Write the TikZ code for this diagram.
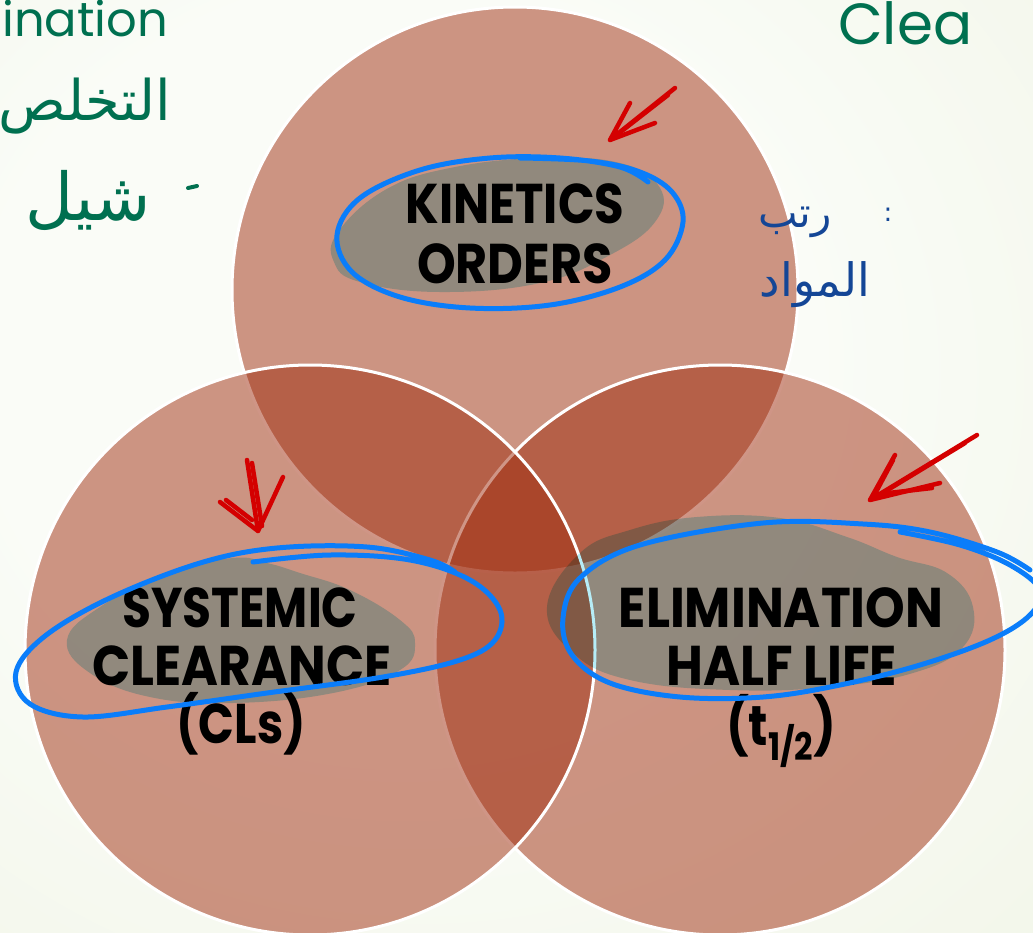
\documentclass[tikz,border=0pt]{standalone}
\usepackage{fontspec}
\setmainfont{Poppins}
\newfontfamily\arabicfont[Script=Arabic]{DejaVu Sans}
\TeXXeTstate=1
\usetikzlibrary{calc}
\definecolor{circ}{RGB}{160,45,15}
\definecolor{blobc}{RGB}{182,237,247}
\definecolor{pen}{RGB}{10,125,250}
\definecolor{redpen}{RGB}{212,0,0}
\definecolor{hwgreen}{RGB}{0,112,80}
\definecolor{hwblue}{RGB}{20,70,150}
\definecolor{bgin}{RGB}{250,252,247}
\definecolor{bgout}{RGB}{232,238,215}
\pgfdeclareradialshading{bgshade}{\pgfpoint{-8bp}{8bp}}{color(0bp)=(bgin); color(20bp)=(bgin); color(72bp)=(bgout)}
\newcommand{\hsq}[2]{\scalebox{#1}[1]{#2}}
\tikzset{
  venn/.style={circle, inner sep=0pt, fill=circ, fill opacity=0.5, draw=white, draw opacity=1, line width=3pt},
  lbl/.style={anchor=base, inner sep=0pt, font=\fontsize{56}{56}\selectfont\bfseries, text=black},
  blob/.style={fill=blobc},
  bluepen/.style={draw=pen, line width=5pt, line cap=round, line join=round},
  redstroke/.style={draw=redpen, line width=4.5pt, line cap=round, line join=round},
  hwg/.style={inner sep=0pt, text=hwgreen},
  hwb/.style={inner sep=0pt, text=hwblue}
}
\begin{document}
\begin{tikzpicture}[x=1pt,y=-1pt]
\useasboundingbox (0,0) rectangle (1033,932);
\clip (0,0) rectangle (1033,932);
\shade[shading=bgshade] (0,0) rectangle (1033,932);
% circles
\node[venn, minimum size=566pt] (ctop) at (515,290) {};
\node[venn, minimum size=570pt] (cright) at (720,650) {};
\node[venn, minimum size=570pt] (cleft) at (310,650) {};
% gray highlight blobs
\begin{scope}[blend mode=multiply]
\fill[blob] plot[smooth cycle, tension=0.7] coordinates {(338,232) (385,190) (450,168) (540,158) (620,163) (660,188) (655,222) (610,255) (540,283) (440,292) (360,282) (334,262)};
\fill[blob] plot[smooth cycle, tension=0.7] coordinates {(67,640) (100,607) (167,573) (233,558) (267,563) (300,573) (350,590) (400,620) (415,643) (400,670) (333,693) (233,703) (150,697) (90,673)};
\fill[blob] plot[smooth cycle, tension=0.7] coordinates {(547,607) (580,553) (630,530) (697,517) (780,518) (847,537) (897,557) (947,573) (973,607) (963,647) (913,673) (830,687) (730,690) (630,680) (573,653)};
\end{scope}
% labels
\node[lbl] (kin) at (515,223) {\hsq{0.86}{KINETICS}};
\node[lbl] (ord) at (515,283) {\hsq{0.88}{ORDERS}};
\node[lbl] (sys) at (240,627) {\hsq{0.84}{SYSTEMIC}};
\node[lbl] (cle) at (242,685) {\hsq{0.895}{CLEARANCE}};
\node[lbl] (cls) at (241,743) {\hsq{0.84}{(CLs)}};
\node[lbl] (eli) at (781,627) {\hsq{0.90}{ELIMINATION}};
\node[lbl] (hal) at (782,685) {\hsq{0.90}{HALF LIFE}};
\node[lbl] (thf) at (781,745) {\hsq{0.85}{(t\raisebox{-0.28em}{\fontsize{38}{38}\selectfont 1/2})}};
% blue pen loops
\draw[bluepen] plot[smooth, tension=0.6] coordinates {(648,182) (620,167) (560,158) (490,158) (420,170) (360,198) (337,235) (352,272) (400,297) (470,308) (550,305) (620,287) (665,260) (683,222) (672,192) (640,172) (590,161) (520,158)};
\draw[bluepen] plot[smooth, tension=0.6] coordinates {(253,562) (330,555) (410,560) (470,580) (500,610) (495,640) (460,660) (383,677) (267,693) (167,707) (83,717) (30,704) (16,672) (45,636) (110,598) (200,563) (277,548) (367,547) (430,560) (455,572)};
\draw[bluepen] plot[smooth, tension=0.6] coordinates {(900,532) (960,545) (1010,565) (1040,590) (1030,615) (990,640) (920,665) (840,685) (763,697) (680,697) (610,683) (572,655) (563,618) (580,578) (640,545) (763,523) (863,524) (930,532) (997,552) (1030,570)};
% red arrows
\coordinate (tipA) at (610,140);
\draw[redstroke] (675,88) -- (tipA) -- (630,103);
\draw[redstroke] (668,95) -- (614,137);
\draw[redstroke] (tipA) -- (655,123);
\coordinate (tipB) at (258,531);
\draw[redstroke] (247,460) -- (tipB) -- (283,477);
\draw[redstroke] (252,463) -- (262,526);
\draw[redstroke] (220,502) -- (tipB);
\draw[redstroke] (226,500) -- (252,520);
\coordinate (tipC) at (870,500);
\draw[redstroke] (977,435) -- (tipC) -- (895,455);
\draw[redstroke] (965,443) -- (876,497);
\draw[redstroke] (tipC) -- (940,483);
\draw[redstroke] (880,494) -- (932,488);
\draw[redstroke] (876,492) -- (893,460);
% handwriting
\node[hwg, anchor=base west, font=\fontsize{48}{48}\selectfont] (hw1) at (2,36) {ination};
\node[hwg, font=\arabicfont\fontsize{56}{56}\selectfont] (hw2) at (85,106) {\beginR التخلص\endR};
\node[hwg, font=\arabicfont\fontsize{66}{66}\selectfont] (hw3) at (88,200) {\beginR شيل\endR};
\draw[hwgreen, line width=4pt, line cap=round] (188,188) -- (197,186);
\node[hwg, anchor=base west, font=\fontsize{58}{58}\selectfont] (hw4) at (838,44) {Clea};
\node[hwb, font=\arabicfont\fontsize{42}{42}\selectfont] (hw5) at (795,222) {\beginR رتب\endR};
\node[hwb, font=\arabicfont\fontsize{26}{26}\selectfont] (hw6) at (888,215) {:};
\node[hwb, font=\arabicfont\fontsize{46}{46}\selectfont] (hw7) at (815,285) {\beginR المواد\endR};
\end{tikzpicture}
\end{document}
